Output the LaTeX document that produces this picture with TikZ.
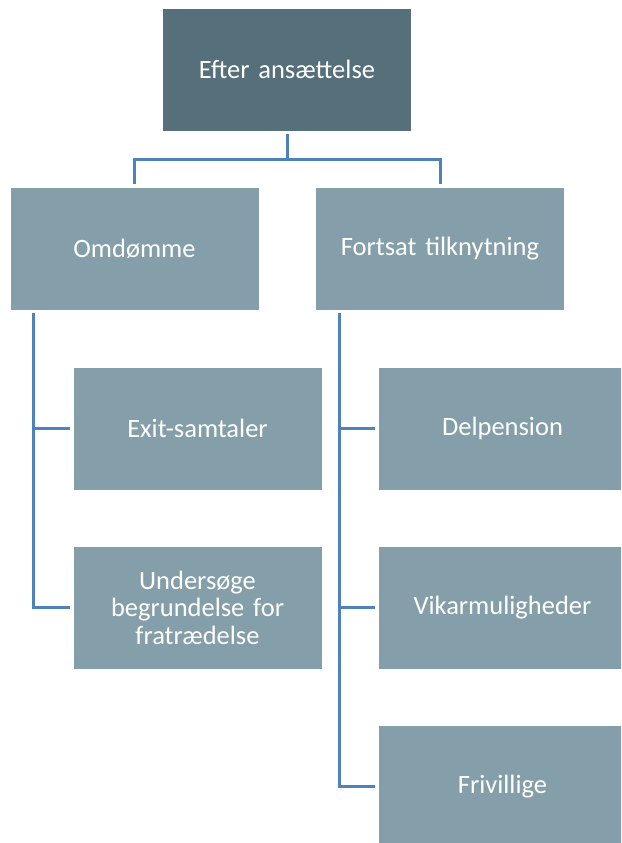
\documentclass[tikz,border=0pt]{standalone}
\usepackage{fontspec}
\setmainfont{Carlito}
\definecolor{darkbox}{RGB}{86,112,123}
\definecolor{lightbox}{RGB}{132,159,169}
\definecolor{connblue}{RGB}{79,129,189}
\begin{document}
\begin{tikzpicture}[x=1pt,y=-1pt,
  box/.style={rectangle, fill=lightbox, draw=white, line width=0.6pt, minimum width=249pt, minimum height=123pt, inner sep=0pt, text=white, align=center, text width=230pt, font=\fontsize{26.5}{27.5}\selectfont},
  topbox/.style={box, fill=darkbox},
  conn/.style={draw=connblue, line width=3pt, shorten >=3pt, shorten <=3pt}]
\useasboundingbox (0,0) rectangle (621,843);
\clip (0,0) rectangle (621,843);
\node[topbox] (top) at (287,69.5) {Efter ansættelse};
\node[box] (om) at (134.5,248.5) {Omdømme};
\node[box] (ft) at (440,248.5) {Fortsat tilknytning};
\node[box] (exit) at (197.5,428.5) {Exit-samtaler};
\node[box] (und) at (197.5,607.5) {Undersøge\\begrundelse for\\fratrædelse};
\node[box] (del) at (502.5,428.5) {Delpension};
\node[box] (vik) at (502.5,607.5) {Vikarmuligheder};
\node[box] (fri) at (502.5,786.5) {Frivillige};
\coordinate (hub) at ([yshift=-28pt]top.south);
\draw[conn, shorten >=0pt] (top.south) -- (hub);
\draw[conn, shorten <=0pt] (hub) -| (om.north);
\draw[conn, shorten <=0pt] (hub) -| (ft.north);
\coordinate (omleg) at ([xshift=24pt]om.south west);
\coordinate (ftleg) at ([xshift=24pt]ft.south west);
\draw[conn] (omleg) |- (exit.west);
\draw[conn] (omleg) |- (und.west);
\draw[conn] (ftleg) |- (del.west);
\draw[conn] (ftleg) |- (vik.west);
\draw[conn] (ftleg) |- (fri.west);
\end{tikzpicture}
\end{document}
